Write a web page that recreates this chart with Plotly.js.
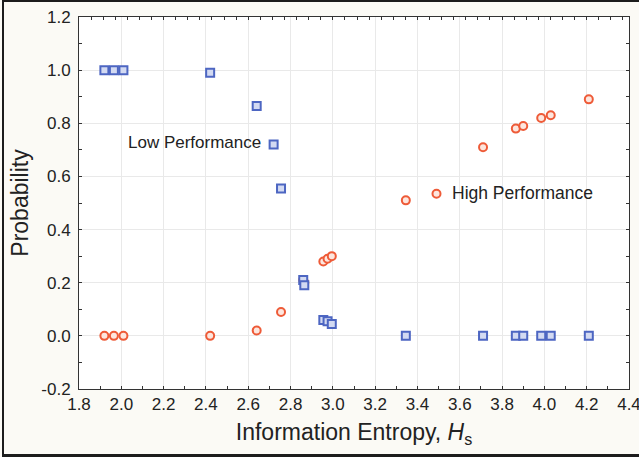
<!DOCTYPE html>
<html>
<head>
<meta charset="utf-8">
<script src="https://cdn.plot.ly/plotly-3.0.1.min.js"></script>
<style>
  html, body { margin: 0; padding: 0; background: #fbfaf5; }
  #wrap { position: relative; width: 639px; height: 457px; overflow: hidden; }
  #plot { position: absolute; left: 0; top: 0; width: 639px; height: 457px; }
  #frame { position: absolute; left: 2px; top: 0; width: 650px; height: 452px;
           border-top: 2px solid #1c1c1c; border-left: 2px solid #1c1c1c; border-bottom: 3px solid #1c1c1c;
           pointer-events: none; }
</style>
</head>
<body>
<div id="wrap"><div id="plot"></div><div id="frame"></div></div>
<script>
// Low Performance (blue squares)
const lowX = [1.92, 1.965, 2.01, 2.42, 2.64, 2.72, 2.755, 2.86, 2.865, 2.955, 2.975, 2.995, 3.345, 3.71, 3.865, 3.90, 3.985, 4.03, 4.21];
const lowY = [1.0, 1.0, 1.0, 0.99, 0.865, 0.72, 0.555, 0.21, 0.19, 0.06, 0.055, 0.045, 0.0, 0.0, 0.0, 0.0, 0.0, 0.0, 0.0];
// High Performance (red circles)
const highX = [1.92, 1.965, 2.01, 2.42, 2.64, 2.755, 2.86, 2.865, 2.955, 2.975, 2.995, 3.345, 3.71, 3.865, 3.90, 3.985, 4.03, 4.21];
const highY = [0.0, 0.0, 0.0, 0.0, 0.02, 0.09, 0.21, 0.20, 0.28, 0.29, 0.30, 0.51, 0.71, 0.78, 0.79, 0.82, 0.83, 0.89];
// key marker beside the "High Performance" label
const highKeyX = [3.49];
const highKeyY = [0.535];
// labels
const lowLabel = 'Low Performance';
const highLabel = 'High Performance';
const xTitle = 'Information Entropy, <i>H</i><sub>s</sub>';
const yTitle = 'Probability';
// ticks
const xTickVals = [1.8, 2.0, 2.2, 2.4, 2.6, 2.8, 3.0, 3.2, 3.4, 3.6, 3.8, 4.0, 4.2, 4.4];
const xTickText = ['1.8', '2.0', '2.2', '2.4', '2.6', '2.8', '3.0', '3.2', '3.4', '3.6', '3.8', '4.0', '4.2', '4.4'];
const yTickVals = [-0.2, 0.0, 0.2, 0.4, 0.6, 0.8, 1.0, 1.2];
const yTickText = ['-0.2', '0.0', '0.2', '0.4', '0.6', '0.8', '1.0', '1.2'];

const FONT = 'Liberation Sans, Arial, Helvetica, sans-serif';
const RED = '#ee5b38';
const BLUE = '#4d66c2';

const traces = [
  {
    x: highX, y: highY, type: 'scatter', mode: 'markers', name: highLabel,
    marker: { symbol: 'circle', size: 8, color: '#fde6de', line: { color: RED, width: 2 } },
    hoverinfo: 'skip'
  },
  {
    x: highKeyX, y: highKeyY, type: 'scatter', mode: 'markers', name: highLabel + ' key',
    marker: { symbol: 'circle', size: 8, color: '#fde6de', line: { color: RED, width: 2 } },
    hoverinfo: 'skip'
  },
  {
    x: lowX, y: lowY, type: 'scatter', mode: 'markers', name: lowLabel,
    marker: { symbol: 'square', size: 8, color: '#d3daf2', line: { color: BLUE, width: 2 } },
    hoverinfo: 'skip'
  },
  { x: [], y: [], xaxis: 'x2', yaxis: 'y', type: 'scatter', mode: 'markers', showlegend: false, hoverinfo: 'skip' }
];

const axisCommon = {
  ticks: 'inside', ticklen: 3, tickwidth: 1, tickcolor: '#333',
  showline: true, linecolor: '#333', linewidth: 1,
  showgrid: true, gridcolor: '#e9e9e9', gridwidth: 1,
  zeroline: false,
  ticklabeloverflow: 'allow',
  tickfont: { family: FONT, size: 17, color: '#222' }
};

const layout = {
  width: 639, height: 457,
  margin: { l: 79, r: 10, t: 17, b: 68 },
  paper_bgcolor: '#fbfaf5',
  plot_bgcolor: '#ffffff',
  showlegend: false,
  font: { family: FONT, color: '#222' },
  xaxis: Object.assign({}, axisCommon, {
    range: [1.8, 4.4], tickmode: 'array', tickvals: xTickVals, ticktext: xTickText,
    mirror: true,
    minor: { dtick: 0.1, tick0: 1.8, ticks: 'inside', ticklen: 3, tickcolor: '#333', showgrid: false },
    title: { text: xTitle, font: { family: FONT, size: 23, color: '#222' }, standoff: 10 }
  }),
  xaxis2: {
    overlaying: 'x', side: 'top', range: [0, 45.5], dtick: 1, tick0: 0,
    ticks: 'inside', ticklen: 3, tickcolor: '#333', showticklabels: false,
    showgrid: false, zeroline: false, showline: false
  },
  yaxis: Object.assign({}, axisCommon, {
    range: [-0.2, 1.2], tickmode: 'array', tickvals: yTickVals, ticktext: yTickText,
    mirror: 'ticks', ticklabelstandoff: 4,
    minor: { dtick: 0.1, tick0: -0.2, ticks: 'inside', ticklen: 3, tickcolor: '#333', showgrid: false },
    title: { text: yTitle, font: { family: FONT, size: 23, color: '#222' }, standoff: 6 }
  }),
  annotations: [
    { x: 2.67, y: 0.727, xref: 'x', yref: 'y', text: lowLabel, showarrow: false,
      xanchor: 'right', yanchor: 'middle', font: { family: FONT, size: 17, color: '#222' } },
    { x: 3.556, y: 0.537, xref: 'x', yref: 'y', text: highLabel, showarrow: false,
      xanchor: 'left', yanchor: 'middle', font: { family: FONT, size: 17.5, color: '#222' } }
  ]
};

Plotly.newPlot('plot', traces, layout, { displayModeBar: false, staticPlot: true });
</script>
</body>
</html>
